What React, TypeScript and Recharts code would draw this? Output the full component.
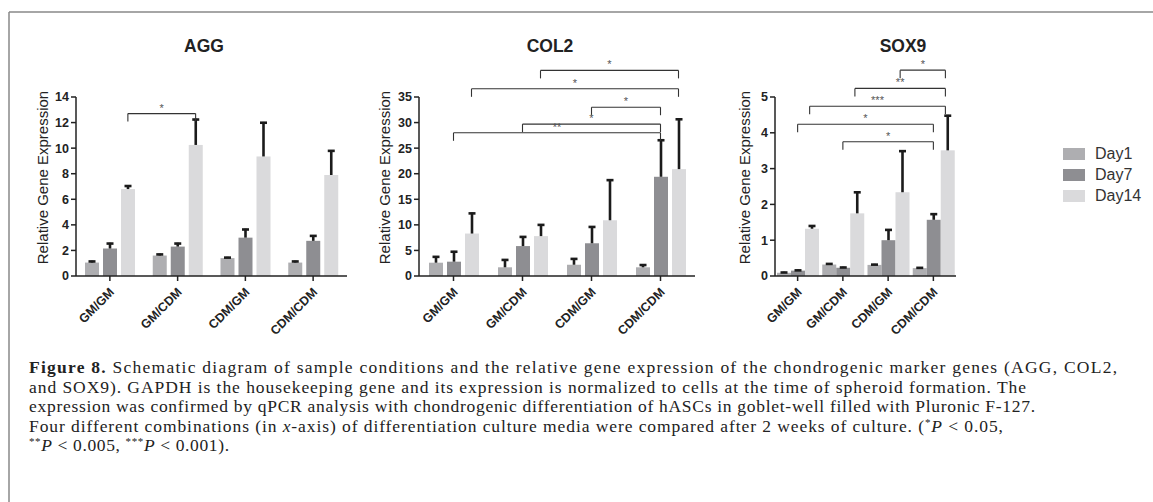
import React from "react";
import { BarChart, Bar, XAxis, YAxis, ReferenceLine, Legend } from "recharts";

// groups on the x-axis and the three time points
const CATEGORIES = ["GM/GM", "GM/CDM", "CDM/GM", "CDM/CDM"];
const SERIES = ["Day1", "Day7", "Day14"];
const COLORS = ["#aeaeb1", "#8e8e92", "#dadadc"];

// AGG means / upper SD
const AGG_DAY1 = [1.05, 1.6, 1.4, 1.05];
const AGG_DAY7 = [2.15, 2.3, 3.0, 2.75];
const AGG_DAY14 = [6.8, 10.25, 9.35, 7.9];
const AGG_ERR1 = [0.15, 0.15, 0.1, 0.15];
const AGG_ERR7 = [0.45, 0.3, 0.7, 0.45];
const AGG_ERR14 = [0.3, 2.05, 2.7, 1.95];
const AGG_TICKS = [0, 2, 4, 6, 8, 10, 12, 14];

// COL2
const COL2_DAY1 = [2.6, 1.7, 2.2, 1.7];
const COL2_DAY7 = [2.8, 5.85, 6.4, 19.4];
const COL2_DAY14 = [8.3, 7.8, 10.9, 20.9];
const COL2_ERR1 = [1.3, 1.6, 1.3, 0.6];
const COL2_ERR7 = [2.1, 1.95, 3.35, 7.3];
const COL2_ERR14 = [4.1, 2.35, 8.0, 9.9];
const COL2_TICKS = [0, 5, 10, 15, 20, 25, 30, 35];

// SOX9
const SOX9_DAY1 = [0.09, 0.32, 0.31, 0.22];
const SOX9_DAY7 = [0.15, 0.23, 1.0, 1.57];
const SOX9_DAY14 = [1.32, 1.75, 2.34, 3.51];
const SOX9_ERR1 = [0.03, 0.04, 0.03, 0.03];
const SOX9_ERR7 = [0.03, 0.03, 0.31, 0.18];
const SOX9_ERR14 = [0.1, 0.61, 1.17, 0.99];
const SOX9_TICKS = [0, 1, 2, 3, 4, 5];

// significance brackets: [category, series] -> [category, series], height, stars
type Bracket = { from: [number, number]; to: [number, number]; y: number; label: string };
const AGG_BRACKETS: Bracket[] = [{ from: [0, 2], to: [1, 2], y: 12.7, label: "*" }];
const COL2_BRACKETS: Bracket[] = [
  { from: [1, 2], to: [3, 2], y: 40.2, label: "*" },
  { from: [0, 2], to: [3, 2], y: 36.6, label: "*" },
  { from: [2, 1], to: [3, 1], y: 33.0, label: "*" },
  { from: [1, 1], to: [3, 1], y: 29.7, label: "*" },
  { from: [0, 1], to: [3, 1], y: 28.0, label: "**" },
];
const SOX9_BRACKETS: Bracket[] = [
  { from: [2, 2], to: [3, 2], y: 5.75, label: "*" },
  { from: [1, 2], to: [3, 2], y: 5.24, label: "**" },
  { from: [0, 2], to: [3, 2], y: 4.74, label: "***" },
  { from: [0, 1], to: [3, 1], y: 4.24, label: "*" },
  { from: [1, 1], to: [3, 1], y: 3.75, label: "*" },
];

const FONT = "'Liberation Sans', Arial, sans-serif";
const PLOT_TOP = 97;
const PLOT_BOTTOM = 276;
const CHART_H = 345;
const X_AXIS_H = 60;
const Y_AXIS_W = 36;
const BAR_SIZE = 14;
const BAR_GAP = 4;

function buildRows(d: number[][], e: number[][]) {
  return CATEGORIES.map((name, i) => {
    const row: Record<string, string | number> = { name, slot: i + 0.5 };
    SERIES.forEach((s, k) => {
      row[s] = d[k][i];
      row[s + "_err"] = e[k][i];
    });
    return row;
  });
}

const AGG_DATA = buildRows([AGG_DAY1, AGG_DAY7, AGG_DAY14], [AGG_ERR1, AGG_ERR7, AGG_ERR14]);
const COL2_DATA = buildRows([COL2_DAY1, COL2_DAY7, COL2_DAY14], [COL2_ERR1, COL2_ERR7, COL2_ERR14]);
const SOX9_DATA = buildRows([SOX9_DAY1, SOX9_DAY7, SOX9_DAY14], [SOX9_ERR1, SOX9_ERR7, SOX9_ERR14]);

// bar with a one-sided (upper) error bar on top
const barWithError = (key: string) => (props: any) => {
  const { x, y, width, height, fill, payload } = props;
  const v = payload[key];
  const err = payload[key + "_err"];
  const perUnit = v > 0 ? height / v : 0;
  const top = y - err * perUnit;
  const cx = x + width / 2;
  return (
    <g>
      <rect x={x} y={y} width={width} height={height} fill={fill} />
      <line x1={cx} y1={y} x2={cx} y2={top} stroke="#1b1b1b" strokeWidth={2.6} />
      <line x1={cx - 3.5} y1={top + 0.8} x2={cx + 3.5} y2={top + 0.8} stroke="#1b1b1b" strokeWidth={2.6} />
    </g>
  );
};

const XTick = ({ x, y, payload }: any) => (
  <g transform={`translate(${x + 5},${y + 10}) rotate(-45)`}>
    <text textAnchor="end" fontFamily={FONT} fontSize={12.5} fontWeight={700} fill="#222">
      {payload.value}
    </text>
  </g>
);

const yLabel = (dx: number) => ({ viewBox }: any) => {
  const cx = viewBox.x + dx;
  const cy = viewBox.y + viewBox.height / 2 - 9;
  return (
    <text
      x={cx}
      y={cy}
      transform={`rotate(-90, ${cx}, ${cy})`}
      textAnchor="middle"
      dominantBaseline="central"
      fontFamily={FONT}
      fontSize={15}
      fill="#222"
    >
      Relative Gene Expression
    </text>
  );
};

const LegendBox = () => (
  <div style={{ fontFamily: FONT, fontSize: 16, color: "#333" }}>
    {SERIES.map((s, k) => (
      <div key={s} style={{ display: "flex", alignItems: "center", height: 21 }}>
        <span style={{ display: "inline-block", width: 22, height: 12, background: COLORS[k], marginRight: 10 }} />
        <span>{s}</span>
      </div>
    ))}
  </div>
);

type PanelProps = {
  title: string;
  titleX: number;
  data: Record<string, string | number>[];
  ticks: number[];
  brackets: Bracket[];
  left: number;
  width: number;
  axisX: number;
  plotRight: number;
  labelDx: number;
  legend?: boolean;
};

function Panel(p: PanelProps) {
  const max = p.ticks[p.ticks.length - 1];
  const catW = (p.plotRight - p.axisX) / CATEGORIES.length;
  const pos = (c: number, s: number) => c + 0.5 + ((s - 1) * (BAR_SIZE + BAR_GAP)) / catW;
  const drop = (max * 8) / (PLOT_BOTTOM - PLOT_TOP);
  const marginLeft = p.axisX - p.left - Y_AXIS_W;
  return (
    <>
      <div
        style={{
          position: "absolute",
          left: p.titleX - 60,
          width: 120,
          top: 36,
          textAlign: "center",
          fontFamily: FONT,
          fontSize: 17.5,
          fontWeight: 700,
          color: "#222",
        }}
      >
        {p.title}
      </div>
      <div style={{ position: "absolute", left: p.left, top: 0 }}>
        <BarChart
          width={p.width}
          height={CHART_H}
          data={p.data}
          barSize={BAR_SIZE}
          barGap={BAR_GAP}
          margin={{
            top: PLOT_TOP,
            right: p.left + p.width - p.plotRight,
            left: marginLeft,
            bottom: CHART_H - PLOT_BOTTOM - X_AXIS_H,
          }}
        >
          <XAxis
            dataKey="name"
            height={X_AXIS_H}
            interval={0}
            tick={<XTick />}
            tickSize={5}
            axisLine={{ stroke: "#222", strokeWidth: 1.5 }}
            tickLine={{ stroke: "#222", strokeWidth: 1.5 }}
          />
          <XAxis xAxisId="pos" dataKey="slot" type="number" domain={[0, 4]} allowDataOverflow hide />
          <YAxis
            width={Y_AXIS_W}
            domain={[0, max]}
            ticks={p.ticks}
            interval={0}
            tickSize={5}
            tick={{ fontFamily: FONT, fontSize: 12.5, fontWeight: 700, fill: "#222" }}
            axisLine={{ stroke: "#222", strokeWidth: 1.5 }}
            tickLine={{ stroke: "#222", strokeWidth: 1.5 }}
            label={{ content: yLabel(p.labelDx) }}
          />
          {SERIES.map((s, k) => (
            <Bar key={s} dataKey={s} fill={COLORS[k]} isAnimationActive={false} shape={barWithError(s)} />
          ))}
          {p.brackets.flatMap((b, i) => {
            const x1 = pos(b.from[0], b.from[1]);
            const x2 = pos(b.to[0], b.to[1]);
            const common = { xAxisId: "pos", stroke: "#333", strokeWidth: 1.1, ifOverflow: "visible" as const };
            return [
              <ReferenceLine key={`l${i}`} {...common} segment={[{ x: x1, y: b.y - drop }, { x: x1, y: b.y }]} />,
              <ReferenceLine key={`r${i}`} {...common} segment={[{ x: x2, y: b.y - drop }, { x: x2, y: b.y }]} />,
              <ReferenceLine
                key={`h${i}`}
                {...common}
                segment={[{ x: x1, y: b.y }, { x: x2, y: b.y }]}
                label={{ value: b.label, position: "top", offset: 2, fill: "#555", fontSize: 11, fontFamily: FONT }}
              />,
            ];
          })}
          {p.legend && (
            <Legend
              layout="vertical"
              verticalAlign="top"
              align="right"
              content={<LegendBox />}
              wrapperStyle={{ left: 1063 - p.left, top: 143, width: 90 }}
            />
          )}
        </BarChart>
      </div>
    </>
  );
}

const CAPTION_X = 29;
const CAPTION_Y = 373;
const CAPTION_LH = 19.5;
const CAPTION_WIDTHS = [1088, 997, 1006, 974, 200];

function Caption() {
  const italic = { fontStyle: "italic" as const };
  const sup = { fontSize: 11, baselineShift: "super" } as any;
  const lines: React.ReactNode[] = [
    <>
      <tspan fontWeight={700}>Figure 8.</tspan> Schematic diagram of sample conditions and the relative gene expression
      of the chondrogenic marker genes (AGG, COL2,
    </>,
    <>
      and SOX9). GAPDH is the housekeeping gene and its expression is normalized to cells at the time of spheroid
      formation. The
    </>,
    <>expression was confirmed by qPCR analysis with chondrogenic differentiation of hASCs in goblet-well filled with Pluronic F-127.</>,
    <>
      Four different combinations (in <tspan style={italic}>x</tspan>-axis) of differentiation culture media were compared
      after 2 weeks of culture. (<tspan style={sup}>*</tspan>
      <tspan style={italic}>P</tspan> &lt; 0.05,
    </>,
    <>
      <tspan style={sup}>**</tspan>
      <tspan style={italic}>P</tspan> &lt; 0.005, <tspan style={sup}>***</tspan>
      <tspan style={italic}>P</tspan> &lt; 0.001).
    </>,
  ];
  return (
    <svg width={1153} height={502} style={{ position: "absolute", left: 0, top: 0, pointerEvents: "none" }}>
      <line x1={9} y1={12} x2={1153} y2={12} stroke="#888" strokeWidth={1.5} />
      <line x1={9} y1={12} x2={9} y2={502} stroke="#888" strokeWidth={1.5} />
      {lines.map((l, i) => (
        <text
          key={i}
          x={CAPTION_X}
          y={CAPTION_Y + i * CAPTION_LH}
          fontFamily="'Liberation Serif', 'Times New Roman', serif"
          fontSize={17.5}
          fill="#222"
          textLength={CAPTION_WIDTHS[i]}
          lengthAdjust="spacing"
        >
          {l}
        </text>
      ))}
    </svg>
  );
}

export default function App() {
  return (
    <div style={{ position: "absolute", left: 0, top: 0, width: 1153, height: 502, background: "#fff", overflow: "hidden" }}>
      <Panel title="AGG" titleX={204} data={AGG_DATA} ticks={AGG_TICKS} brackets={AGG_BRACKETS}
        left={0} width={360} axisX={76} plotRight={347} labelDx={2} />
      <Panel title="COL2" titleX={550} data={COL2_DATA} ticks={COL2_TICKS} brackets={COL2_BRACKETS}
        left={360} width={345} axisX={419} plotRight={695} labelDx={1} />
      <Panel title="SOX9" titleX={903} data={SOX9_DATA} ticks={SOX9_TICKS} brackets={SOX9_BRACKETS}
        left={720} width={433} axisX={775} plotRight={1046} labelDx={5} legend />
      <Caption />
    </div>
  );
}
